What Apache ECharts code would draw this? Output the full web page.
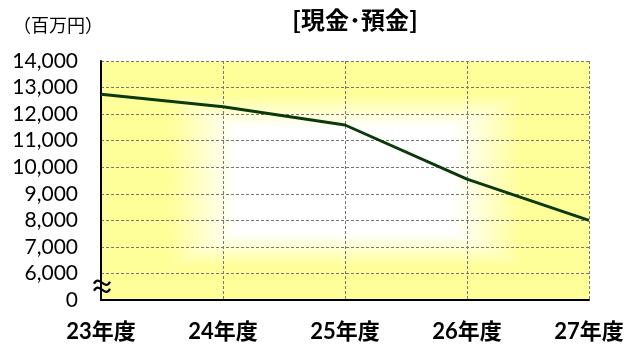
<!DOCTYPE html>
<html>
<head>
<meta charset="utf-8">
<script src="https://cdn.jsdelivr.net/npm/echarts@6/dist/echarts.min.js"></script>
<style>
  html, body { margin: 0; padding: 0; background: #fff; }
  #chart { width: 627px; height: 345px; }
</style>
</head>
<body>
<div id="chart"></div>
<script>
// Fiscal years and cash & deposits balance (million yen)
const years = ['23年度', '24年度', '25年度', '26年度', '27年度'];
const cashDeposits = [12750, 12280, 11590, 9550, 8000];
// Axis is broken below 6,000: the bottom tick stands for zero
const axisMin = 5000;
const axisMax = 14000;
const axisStep = 1000;
const unitLabel = '（百万円）';
const titleText = '[現金･預金]';

const numFont = 'Lato, "Noto Sans CJK JP", sans-serif';
const jpFont = '"Noto Sans CJK JP", sans-serif';

const grid = { left: 101, right: 38, top: 61, bottom: 45 };
const W = 627, H = 345;
const plotW = W - grid.left - grid.right;

// Rectangular "from centre" fill: white core fading out to pale yellow
function makeFill(w, h) {
  const c = document.createElement('canvas');
  c.width = w; c.height = h;
  const ctx = c.getContext('2d');
  const img = ctx.createImageData(w, h);
  const inner = 0.44, outer = 0.72;
  const yellow = [255, 255, 153];
  for (let y = 0; y < h; y++) {
    for (let x = 0; x < w; x++) {
      const dx = Math.abs((x + 0.5) - w / 2) / (w / 2);
      const dy = Math.abs((y + 0.5) - h / 2) / (h / 2);
      const t = Math.max(dx, dy);
      let k = (t - inner) / (outer - inner);
      k = Math.min(1, Math.max(0, k));
      const i = (y * w + x) * 4;
      img.data[i] = 255 + (yellow[0] - 255) * k;
      img.data[i + 1] = 255 + (yellow[1] - 255) * k;
      img.data[i + 2] = 255 + (yellow[2] - 255) * k;
      img.data[i + 3] = 255;
    }
  }
  ctx.putImageData(img, 0, 0);
  return c;
}

const chart = echarts.init(document.getElementById('chart'), null, { renderer: 'canvas' });

chart.setOption({
  animation: false,
  backgroundColor: '#fff',
  title: [
    {
      text: titleText,
      left: 350, top: 3, textAlign: 'center',
      textStyle: { fontFamily: jpFont, fontSize: 24, fontWeight: 'bold', color: '#000' }
    },
    {
      text: unitLabel,
      left: 8, top: 11,
      textStyle: { fontFamily: jpFont, fontSize: 18, fontWeight: 'normal', color: '#000' }
    }
  ],
  grid: grid,
  xAxis: {
    type: 'category',
    data: years,
    boundaryGap: false,
    axisLine: { lineStyle: { color: '#000', width: 2 } },
    axisTick: { show: false },
    axisLabel: {
      margin: 21,
      fontFamily: numFont, fontSize: 22, fontWeight: 'bold', color: '#000'
    },
    splitLine: { show: true, lineStyle: { color: '#777', type: [3, 2], width: 1 } }
  },
  yAxis: {
    type: 'value',
    min: axisMin, max: axisMax, interval: axisStep,
    axisLine: { show: true, lineStyle: { color: '#000', width: 2 } },
    axisTick: { show: false },
    axisLabel: {
      margin: 23,
      fontFamily: numFont, fontSize: 21, color: '#000',
      formatter: v => (v === axisMin ? '0' : v.toLocaleString('en-US'))
    },
    splitLine: { show: true, lineStyle: { color: '#777', type: [3, 2], width: 1 } }
  },
  series: [{
    type: 'line',
    data: cashDeposits,
    symbol: 'none',
    lineStyle: { color: '#0a3a0a', width: 3 },
    z: 5
  }]
});

// Plot-area fill and the axis-break mark, placed from the grid's own scale
const x0 = chart.convertToPixel({ xAxisIndex: 0 }, 0);
const yTop = chart.convertToPixel({ yAxisIndex: 0 }, axisMax);
const yBot = chart.convertToPixel({ yAxisIndex: 0 }, axisMin);
const yBreak = chart.convertToPixel({ yAxisIndex: 0 }, (axisMin + 6000) / 2);
const fill = makeFill(Math.round(plotW), Math.round(yBot - yTop));

function wave(cx, cy) {
  return {
    type: 'bezierCurve', z: 100, silent: true,
    shape: {
      x1: cx - 8, y1: cy + 1,
      cpx1: cx - 3, cpy1: cy - 9,
      cpx2: cx + 3, cpy2: cy + 9,
      x2: cx + 8, y2: cy - 1
    },
    style: { stroke: '#000', lineWidth: 2.2, fill: null }
  };
}

chart.setOption({
  graphic: [
    {
      type: 'image', x: x0, y: yTop, z: -10, silent: true,
      style: { image: fill, width: plotW, height: yBot - yTop }
    },
    wave(x0 + 1, yBreak - 4),
    wave(x0 + 1, yBreak + 3)
  ]
});
</script>
</body>
</html>
